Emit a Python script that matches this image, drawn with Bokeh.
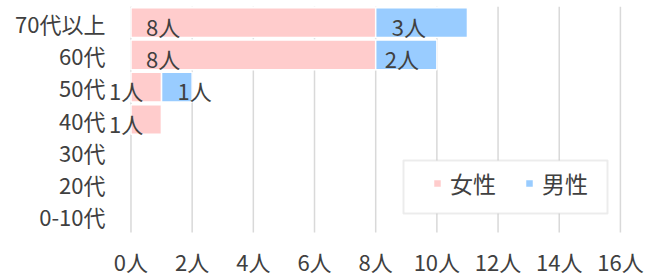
from bokeh.plotting import figure
from bokeh.models import ColumnDataSource, Range1d, FixedTicker, LabelSet, BoxAnnotation
from bokeh.core.properties import value
from bokeh.embed import file_html
from bokeh.resources import INLINE

# ---- data ----
categories = ["0-10代", "20代", "30代", "40代", "50代", "60代", "70代以上"]
female = [0, 0, 0, 1, 1, 8, 8]
male = [0, 0, 0, 0, 1, 2, 3]
series_names = ["女性", "男性"]
x_ticks = [0, 2, 4, 6, 8, 10, 12, 14, 16]
x_tick_labels = ["0人", "2人", "4人", "6人", "8人", "10人", "12人", "14人", "16人"]

# label pixel offsets (style only) per category, from the bar segment start
female_label_offset = [0, 0, 0, -22, -22, 15, 15]
male_label_offset = [0, 0, 0, 0, 16, 9, 16]

FONT = "Noto Sans CJK JP"
TEXT = "#404040"
PINK = "#FFCCCC"
BLUE = "#99CCFF"

pos = list(range(len(categories)))          # category slots, bottom to top
first, last = pos[0] - 0.5, pos[-1] + 0.5    # edges of the category band

keep = [i for i in pos if female[i] + male[i] > 0]
src = ColumnDataSource(dict(y=[pos[i] for i in keep],
                            f=[female[i] for i in keep],
                            m=[male[i] for i in keep]))

p = figure(
    width=645, height=277,
    y_range=Range1d(first - 1.393, last),
    x_range=Range1d(-0.8, 16.82),
    output_backend="svg", toolbar_location=None,
    min_border_left=106, min_border_right=0, min_border_top=6, min_border_bottom=0,
)
p.outline_line_color = None
p.xaxis.visible = False
p.xgrid.grid_line_color = None
p.ygrid.grid_line_color = None

# vertical grid lines over the category band
p.segment(x0=x_ticks, x1=x_ticks, y0=[first] * len(x_ticks), y1=[last] * len(x_ticks),
          line_color="#d9d9d9", line_width=1.5)

# legend frame (drawn beneath the glyphs, over the grid)
box = BoxAnnotation(left=403, right=607, top=160, bottom=213,
                    left_units="canvas", right_units="canvas",
                    top_units="canvas", bottom_units="canvas",
                    fill_color="white", fill_alpha=1,
                    line_color="#bfbfbf", line_width=2)
p.add_layout(box)

renderers = p.hbar_stack(["f", "m"], y="y", height=0.92, color=[PINK, BLUE],
                         line_color="white", line_width=1.5, source=src,
                         legend_label=series_names)

# x tick labels under the band
p.text(x=x_ticks, y=[first] * len(x_ticks), text=x_tick_labels, y_offset=28,
       text_font=value(FONT), text_font_size="22px", text_color=TEXT,
       text_align="center", text_baseline="middle")

# data labels
lab_x, lab_y, lab_t, lab_off = [], [], [], []
for i, fv, mv, fo, mo in zip(pos, female, male, female_label_offset, male_label_offset):
    if fv > 0:
        lab_x.append(0); lab_y.append(i); lab_t.append(f"{fv}人"); lab_off.append(fo)
    if mv > 0:
        lab_x.append(fv); lab_y.append(i); lab_t.append(f"{mv}人"); lab_off.append(mo)
lsrc = ColumnDataSource(dict(x=lab_x, y=lab_y, t=lab_t, off=lab_off))
labels = LabelSet(x="x", y="y", text="t", x_offset="off", y_offset=-3, source=lsrc,
                  text_font=value(FONT), text_font_size="22px", text_color=TEXT,
                  text_align="left", text_baseline="middle")
p.add_layout(labels)

# y axis: category names
p.yaxis.ticker = FixedTicker(ticks=pos)
p.yaxis.major_label_overrides = {i: c for i, c in zip(pos, categories)}
p.yaxis.axis_line_color = None
p.yaxis.major_tick_line_color = None
p.yaxis.minor_tick_line_color = None
p.yaxis.major_tick_out = 0
p.yaxis.major_tick_in = 0
p.yaxis.major_label_standoff = 1
p.yaxis.major_label_text_font = FONT
p.yaxis.major_label_text_font_size = "22px"
p.yaxis.major_label_text_color = TEXT

# legend (frame drawn by the box above)
lg = p.legend[0]
lg.orientation = "horizontal"
lg.location = (326, 77)
lg.border_line_color = None
lg.background_fill_alpha = 0
lg.padding = 0
lg.margin = 0
lg.spacing = 24
lg.glyph_width = 10
lg.glyph_height = 10
lg.label_standoff = 8
lg.label_width = 50
lg.label_text_font = FONT
lg.label_text_font_size = "23px"
lg.label_text_color = TEXT

open("out.html", "w").write(file_html(p, INLINE))
